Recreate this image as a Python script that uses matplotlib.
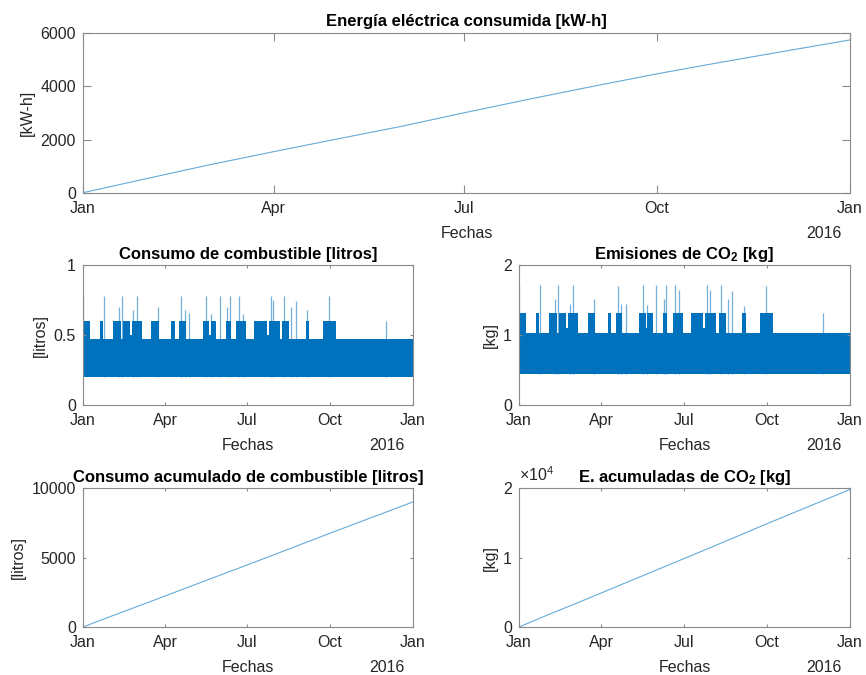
import matplotlib; matplotlib.use("Agg")
import matplotlib.pyplot as plt
import numpy as np
import pandas as pd

plt.rcParams["font.family"] = ["Liberation Sans", "DejaVu Sans"]
plt.rcParams["mathtext.fontset"] = "custom"
plt.rcParams["mathtext.rm"] = "Liberation Sans"
plt.rcParams["mathtext.default"] = "regular"

T0 = pd.Timestamp("2016-01-01")

# monthly samples (first day of each month)
month_days = [0, 31, 60, 91, 121, 152, 182, 213, 244, 274, 305, 335, 366]
energy_kwh = [10, 550, 1050, 1550, 2020, 2500, 3010, 3520, 4010, 4470, 4910, 5320, 5740]
fuel_cum = [0, 770, 1470, 2230, 2970, 3730, 4460, 5230, 6000, 6750, 7510, 8240, 9000]
co2_cum = [0, 1700, 3230, 4900, 6530, 8200, 9820, 11500, 13200, 14850, 16520, 18130, 19800]

# fuel band: bottom level, top level per segment (segment edges in days)
fuel_base = 0.2
seg_days = [0, 8, 19, 22, 33, 42, 44, 52, 54, 65, 76, 84, 98, 102, 107, 114,
            133, 140, 142, 148, 159, 164, 170, 181, 190, 204, 206, 218, 221, 229,
            247, 251, 266, 281, 366]
fuel_top = [0.6, 0.47, 0.6, 0.47, 0.6, 0.47, 0.6, 0.5, 0.6, 0.47, 0.6, 0.47,
            0.6, 0.47, 0.6, 0.47, 0.6, 0.5, 0.6, 0.47, 0.6, 0.47, 0.6, 0.47,
            0.6, 0.5, 0.6, 0.47, 0.6, 0.47, 0.6, 0.47, 0.6, 0.47]
co2_base = 0.44
co2_top = [1.31, 1.03, 1.31, 1.03, 1.31, 1.03, 1.31, 1.1, 1.31, 1.03, 1.31, 1.03,
           1.31, 1.03, 1.31, 1.03, 1.31, 1.1, 1.31, 1.03, 1.31, 1.03, 1.31, 1.03,
           1.31, 1.1, 1.31, 1.03, 1.31, 1.03, 1.31, 1.03, 1.31, 1.03]

spike_days = [0, 23, 40, 43, 56, 60, 83, 109, 113, 118, 137, 142, 152, 160, 163,
              173, 177, 208, 211, 223, 231, 236, 249, 273, 336]
fuel_spikes = [0.78, 0.78, 0.70, 0.78, 0.68, 0.78, 0.70, 0.78, 0.68, 0.66, 0.78, 0.65,
               0.78, 0.70, 0.78, 0.78, 0.65, 0.78, 0.75, 0.78, 0.70, 0.74, 0.68, 0.78, 0.60]
co2_spikes = [1.72, 1.72, 1.52, 1.72, 1.45, 1.72, 1.52, 1.70, 1.45, 1.45, 1.72, 1.43,
              1.72, 1.52, 1.72, 1.72, 1.65, 1.72, 1.65, 1.72, 1.52, 1.63, 1.42, 1.70, 1.32]

tick_dates = ["2016-01-01", "2016-04-01", "2016-07-01", "2016-10-01", "2017-01-01"]
tick_names = ["Jan", "Apr", "Jul", "Oct", "Jan"]

BLUE = "#0072BD"
TXT = "#262626"

def days(d):
    return T0 + pd.to_timedelta(np.asarray(d, dtype=float), unit="D")

def style(ax, ticklen):
    ax.set_xlim(days([0])[0], days([366])[0])
    ax.set_xticks(pd.to_datetime(tick_dates))
    ax.set_xticklabels(tick_names)
    for s in ax.spines.values():
        s.set_color("#8a8a8a"); s.set_linewidth(0.8)
    ax.tick_params(direction="in", length=ticklen, width=0.8, color="#8a8a8a",
                   labelcolor=TXT, labelsize=11.5, top=True, right=True)
    ax.tick_params(axis="x", pad=6)
    ax.tick_params(axis="y", pad=5)
    ax.annotate("Fechas", xy=(0.5, 0), xycoords="axes fraction", xytext=(0, -29),
                textcoords="offset points", ha="center", va="center", fontsize=11.5, color=TXT)
    ax.annotate("2016", xy=(1, 0), xycoords="axes fraction", xytext=(-6, -29),
                textcoords="offset points", ha="right", va="center", fontsize=11.5, color=TXT)

def band(ax, base, tops, sp_vals):
    edges = days(seg_days)
    y = list(tops) + [tops[-1]]
    ax.fill_between(edges, base, y, step="post", color=BLUE, lw=0)
    ax.vlines(days(spike_days), base, sp_vals, color=BLUE, lw=0.9, alpha=0.55)

fig = plt.figure(figsize=(8.66, 6.75), dpi=100)

# top: electric energy
a0 = fig.add_axes([0.0958, 0.7141, 0.8857, 0.2370])
a0.plot(days(month_days), energy_kwh, color=BLUE, lw=0.8, alpha=0.6)
a0.set_ylim(0, 6000); a0.set_yticks([0, 2000, 4000, 6000])
style(a0, 5.5)
a0.set_ylabel("[kW-h]", fontsize=11.5, color=TXT, labelpad=4)
a0.set_title("Energía eléctrica consumida [kW-h]", fontsize=12, fontweight="bold", color="black", pad=5)

# middle left: fuel
a1 = fig.add_axes([0.0958, 0.4000, 0.3811, 0.2074])
band(a1, fuel_base, fuel_top, fuel_spikes)
a1.set_ylim(0, 1); a1.set_yticks([0, 0.5, 1]); a1.set_yticklabels(["0", "0.5", "1"])
style(a1, 2.4)
a1.set_ylabel("[litros]", fontsize=11.5, color=TXT, labelpad=4)
a1.set_title("Consumo de combustible [litros]", fontsize=12, fontweight="bold", color="black", pad=4)

# middle right: CO2
a2 = fig.add_axes([0.5993, 0.4000, 0.3822, 0.2074])
band(a2, co2_base, co2_top, co2_spikes)
a2.set_ylim(0, 2); a2.set_yticks([0, 1, 2])
style(a2, 2.4)
a2.set_ylabel("[kg]", fontsize=11.5, color=TXT, labelpad=4)
a2.set_title("Emisiones de CO$_2$ [kg]", fontsize=12, fontweight="bold", color="black", pad=4)

# bottom left: cumulative fuel
a3 = fig.add_axes([0.0958, 0.0711, 0.3811, 0.2059])
a3.plot(days(month_days), fuel_cum, color=BLUE, lw=0.8, alpha=0.6)
a3.set_ylim(0, 10000); a3.set_yticks([0, 5000, 10000])
style(a3, 2.4)
a3.set_ylabel("[litros]", fontsize=11.5, color=TXT, labelpad=4)
a3.set_title("Consumo acumulado de combustible [litros]", fontsize=12, fontweight="bold", color="black", pad=4)

# bottom right: cumulative CO2
a4 = fig.add_axes([0.5993, 0.0711, 0.3822, 0.2059])
a4.plot(days(month_days), co2_cum, color=BLUE, lw=0.8, alpha=0.6)
a4.set_ylim(0, 20000); a4.set_yticks([0, 10000, 20000]); a4.set_yticklabels(["0", "1", "2"])
style(a4, 2.4)
a4.set_ylabel("[kg]", fontsize=11.5, color=TXT, labelpad=4)
a4.set_title("E. acumuladas de CO$_2$ [kg]", fontsize=12, fontweight="bold", color="black", pad=4)
a4.annotate(r"$\times10^{4}$", xy=(0, 1), xycoords="axes fraction", xytext=(0, 3),
            textcoords="offset points", ha="left", va="bottom", fontsize=11.5, color=TXT)

fig.savefig("out.png", dpi=100)
